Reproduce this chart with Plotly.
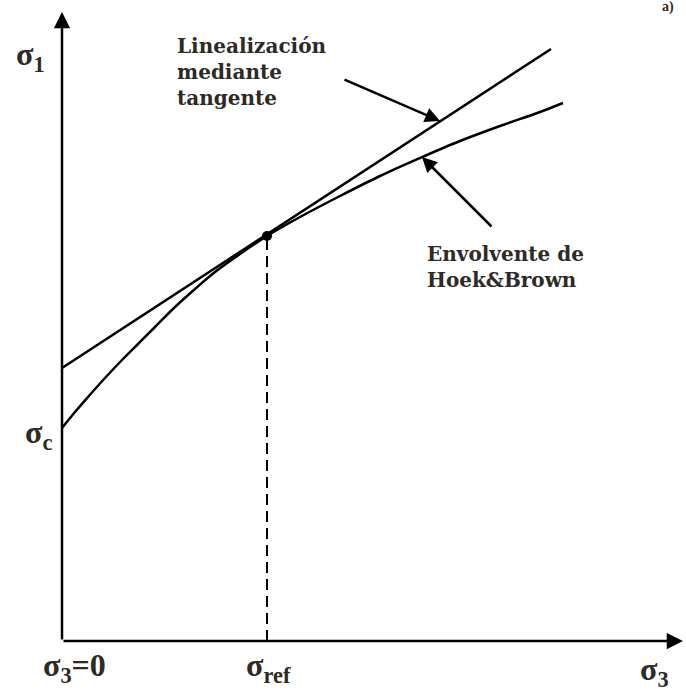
import plotly.graph_objects as go

# Hoek & Brown envelope (sigma3, sigma1)
hb_s3 = [0, 13, 26, 43, 60, 76, 93, 113, 133, 153, 178, 205, 238, 278, 318, 358, 398, 438, 478, 501]
hb_s1 = [213, 229, 244, 263, 281, 297, 314, 334, 352, 369, 387, 405, 424, 445, 465, 483, 500, 515, 529, 538]

# tangent linearisation
tg_s3 = [0, 489]
tg_s1 = [273, 592]

# reference point
ref_s3 = [205]
ref_s1 = [405]

# axis extents
x_axis_end = 621
y_axis_end = 629

serif = "Liberation Serif"
txt_col = "#2e2a26"

fig = go.Figure()

fig.add_trace(go.Scatter(x=hb_s3, y=hb_s1, mode="lines",
                         line=dict(color="black", width=2.5, shape="spline", smoothing=1.0),
                         hoverinfo="skip"))
fig.add_trace(go.Scatter(x=tg_s3, y=tg_s1, mode="lines", line=dict(color="black", width=2.5),
                         hoverinfo="skip"))
fig.add_trace(go.Scatter(x=[ref_s3[0], ref_s3[0]], y=[0, ref_s1[0]], mode="lines",
                         line=dict(color="black", width=2, dash="11px,6px"), hoverinfo="skip"))
fig.add_trace(go.Scatter(x=ref_s3, y=ref_s1, mode="markers", marker=dict(color="black", size=10),
                         hoverinfo="skip"))

ann = []
# axes with arrows
ann.append(dict(x=0, y=y_axis_end, ax=0, ay=0, xref="x", yref="y", axref="x", ayref="y",
                showarrow=True, arrowhead=2, arrowsize=1.3, arrowwidth=2.5, arrowcolor="black", text=""))
ann.append(dict(x=x_axis_end, y=0, ax=0, ay=0, xref="x", yref="y", axref="x", ayref="y",
                showarrow=True, arrowhead=2, arrowsize=1.3, arrowwidth=2.5, arrowcolor="black", text=""))
# pointer arrows
ann.append(dict(x=378, y=520, ax=281, ay=562, xref="x", yref="y", axref="x", ayref="y",
                showarrow=True, arrowhead=2, arrowsize=1.2, arrowwidth=2.5, arrowcolor="black", text=""))
ann.append(dict(x=360, y=484, ax=431, ay=413, xref="x", yref="y", axref="x", ayref="y",
                showarrow=True, arrowhead=2, arrowsize=1.2, arrowwidth=2.5, arrowcolor="black", text=""))

# texts
ann.append(dict(x=113, y=609, xref="x", yref="y", xanchor="left", yanchor="top", align="left",
                showarrow=False, font=dict(family="DejaVu Serif", size=20, color=txt_col),
                text="<b>Linealización<br>mediante<br>tangente</b>"))
ann.append(dict(x=363, y=401, xref="x", yref="y", xanchor="left", yanchor="top", align="left",
                showarrow=False, font=dict(family="DejaVu Serif", size=20, color=txt_col),
                text="<b>Envolvente de<br>Hoek&amp;Brown</b>"))
ann.append(dict(x=-32, y=585, xref="x", yref="y", showarrow=False,
                font=dict(family=serif, size=32, color=txt_col), text="<b>σ<sub>1</sub></b>"))
ann.append(dict(x=-24, y=207, xref="x", yref="y", showarrow=False,
                font=dict(family=serif, size=32, color=txt_col), text="<b>σ<sub>c</sub></b>"))
ann.append(dict(x=12, y=-26, xref="x", yref="y", showarrow=False,
                font=dict(family=serif, size=32, color=txt_col), text="<b>σ<sub>3</sub>=0</b>"))
ann.append(dict(x=206, y=-26, xref="x", yref="y", showarrow=False,
                font=dict(family=serif, size=32, color=txt_col), text="<b>σ<sub>ref</sub></b>"))
ann.append(dict(x=592, y=-30, xref="x", yref="y", showarrow=False,
                font=dict(family=serif, size=32, color=txt_col), text="<b>σ<sub>3</sub></b>"))
ann.append(dict(x=606, y=634, xref="x", yref="y", showarrow=False,
                font=dict(family=serif, size=14, color=txt_col), text="<b>a)</b>"))

fig.update_layout(
    width=686, height=693,
    margin=dict(l=0, r=0, t=0, b=0),
    paper_bgcolor="white", plot_bgcolor="white",
    showlegend=False,
    xaxis=dict(range=[-62, 624], visible=False, fixedrange=True),
    yaxis=dict(range=[-52, 641], visible=False, fixedrange=True),
    annotations=ann,
)

fig.write_html("out.html", config={"displayModeBar": False},
               post_script="document.body.style.margin='0';document.body.style.overflow='hidden';")
